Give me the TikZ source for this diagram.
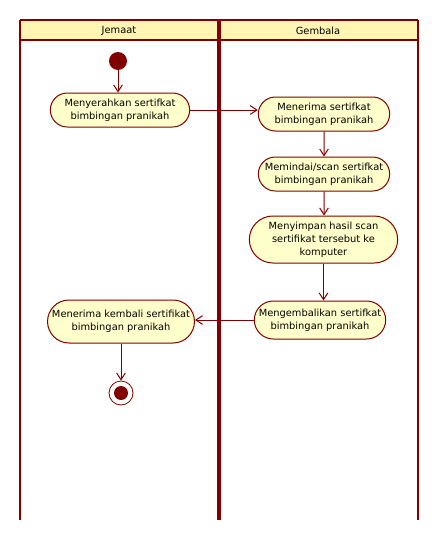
\documentclass[tikz,border=0pt]{standalone}
\usepackage{fontspec}
\setmainfont{DejaVu Sans}
\usetikzlibrary{arrows.meta,shapes.misc}
\definecolor{lane}{RGB}{128,0,0}
\definecolor{hdrfill}{RGB}{255,246,180}
\definecolor{actfill}{RGB}{255,255,204}
\tikzset{
  act/.style={rounded rectangle, draw=lane, line width=0.75pt, fill=actfill, inner sep=1pt,
    align=center, font=\fontsize{7.4}{9.6}\selectfont, text=black},
  flow/.style={draw=lane, line width=0.75pt, -{Straight Barb[length=5pt,width=6.5pt]}},
  laneline/.style={draw=lane},
}
\begin{document}
\begin{tikzpicture}[x=0.75pt,y=-0.75pt]
\useasboundingbox (0,0) rectangle (439,539);
% swimlanes
\fill[hdrfill] (20,20) rectangle (418,40);
\draw[laneline, line width=1.5pt] (20,20) -- (418,20);
\draw[laneline, line width=1.5pt] (20,40) -- (418,40);
\draw[laneline, line width=1.5pt] (20,19.5) -- (20,520);
\draw[laneline, line width=1.5pt] (418,19.5) -- (418,520);
\draw[laneline, line width=3pt] (219,19.5) -- (219,520);
\node[font=\fontsize{7.4}{9}\selectfont] (lj) at (119,30.5) {Jemaat};
\node[font=\fontsize{7.4}{9}\selectfont] (lg) at (318,30.5) {Gembala};
% nodes
\node[circle, fill=lane, minimum size=18*0.75pt, inner sep=0pt] (init) at (118,61) {};
\node[act, minimum width=142*0.75pt, minimum height=34*0.75pt] (n1) at (120,110) {Menyerahkan sertifkat\\bimbingan pranikah};
\node[act, minimum width=134*0.75pt, minimum height=34*0.75pt] (n2) at (324,114) {Menerima sertifkat\\bimbingan pranikah};
\node[act, minimum width=134*0.75pt, minimum height=34*0.75pt] (n3) at (324,174) {Memindai/scan sertifkat\\bimbingan pranikah};
\node[act, minimum width=151*0.75pt, minimum height=47*0.75pt] (n4) at (323.5,239.5) {Menyimpan hasil scan\\sertifikat tersebut ke\\komputer};
\node[act, minimum width=134*0.75pt, minimum height=38*0.75pt] (n5) at (320,320) {Mengembalikan sertifkat\\bimbingan pranikah};
\node[act, minimum width=138*0.75pt, minimum height=43*0.75pt] (n6) at (121,321.5) {Menerima kembali sertifikat\\bimbingan pranikah};
\node[circle, draw=lane, fill=white, line width=0.6pt, minimum size=24*0.75pt, inner sep=0pt] (fin) at (121,393) {};
\node[circle, fill=lane, minimum size=14*0.75pt, inner sep=0pt] (finin) at (fin.center) {};
% flows
\draw[flow] (init) -- (init |- n1.north);
\draw[flow] (n1.east) -- (n1.east -| n2.west);
\draw[flow] (n2) -- (n3);
\draw[flow] (n3) -- (n3 |- n4.north);
\draw[flow] (n4.south) -- (n4.south |- n5.north);
\draw[flow] (n5.west) -- (n5.west -| n6.east);
\draw[flow] (n6.south) -- (fin.north);
\end{tikzpicture}
\end{document}
